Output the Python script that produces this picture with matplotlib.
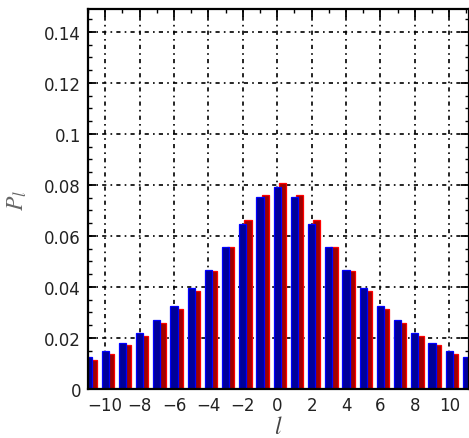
import matplotlib
matplotlib.use("Agg")
import matplotlib.pyplot as plt
from matplotlib.ticker import MultipleLocator

# angular momentum index and the two probability series
ells = list(range(-11, 12))
p_blue = [0.0124, 0.0148, 0.0180, 0.0221, 0.0270, 0.0327, 0.0396, 0.0466,
          0.0556, 0.0647, 0.0752, 0.0791, 0.0752, 0.0647, 0.0556, 0.0466,
          0.0396, 0.0327, 0.0270, 0.0221, 0.0180, 0.0148, 0.0124]
p_red = [0.0112, 0.0139, 0.0172, 0.0208, 0.0258, 0.0315, 0.0383, 0.0462,
         0.0556, 0.0664, 0.0761, 0.0807, 0.0761, 0.0664, 0.0556, 0.0462,
         0.0383, 0.0315, 0.0258, 0.0208, 0.0172, 0.0139, 0.0112]
x_ticks = list(range(-10, 11, 2))
y_ticks = [0, 0.02, 0.04, 0.06, 0.08, 0.1, 0.12, 0.14]
y_tick_labels = ["0", "0.02", "0.04", "0.06", "0.08", "0.1", "0.12", "0.14"]

plt.rcParams["font.family"] = "DejaVu Sans"
plt.rcParams["mathtext.fontset"] = "stix"

fig = plt.figure(figsize=(4.69, 4.39), dpi=100)
ax = fig.add_axes([88 / 469, 49 / 439, 381 / 469, 380 / 439])

width = 0.42
shift = 0.3
ax.bar([l + shift for l in ells], p_red, width=width, color="#a00000",
       edgecolor="#ff0000", linewidth=0.9, zorder=2)
ax.bar(ells, p_blue, width=width, color="#00009a",
       edgecolor="#0000ff", linewidth=0.9, zorder=3)

ax.set_xlim(-11, 11.15)
ax.set_ylim(0, 0.149)
ax.set_xticks(x_ticks)
ax.set_xticklabels([str(t).replace("-", "\u2212") for t in x_ticks])
ax.set_yticks(y_ticks)
ax.set_yticklabels(y_tick_labels)
ax.xaxis.set_minor_locator(MultipleLocator(1))
ax.yaxis.set_minor_locator(MultipleLocator(0.005))

ax.grid(True, which="major", color="black", linewidth=1.2,
        linestyle=(0, (2.5, 2.5, 1, 2.5)), zorder=1)
ax.set_axisbelow(True)

ax.tick_params(which="both", direction="in", top=True, right=True,
               color="black", labelsize=12, labelcolor="#222222")
ax.tick_params(which="major", length=6, width=1.3, pad=5)
ax.tick_params(which="minor", length=3, width=1.0)
for sp in ax.spines.values():
    sp.set_linewidth(1.6)
    sp.set_zorder(4)

ax.set_xlabel("$l$", fontsize=17, color="#444444", labelpad=0)
ax.set_ylabel("$P_l$", fontsize=17, color="#666666", labelpad=11)

fig.savefig("out.png", dpi=100)
